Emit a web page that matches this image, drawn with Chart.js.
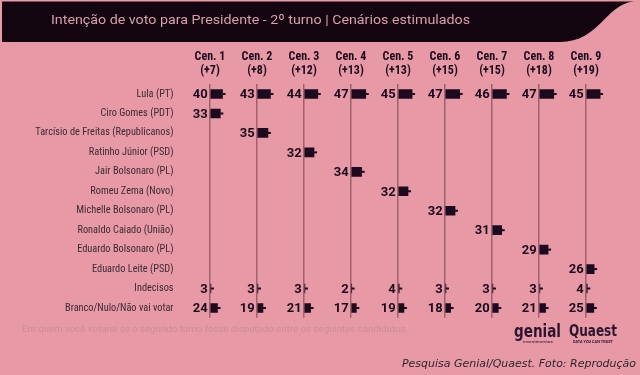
<!DOCTYPE html>
<html lang="pt-BR">
<head>
<meta charset="UTF-8">
<title>Intenção de voto - 2º turno</title>
<style>
    html, body {margin: 0; padding: 0; background: #e79aa6;}
    .chart-wrap {width: 640px; height: 375px;}
</style>
</head>
<body>
<div class="chart-wrap"><canvas id="myChart" width="640" height="375"></canvas></div>
<script src="https://cdn.jsdelivr.net/npm/chart.js@4.4.1/dist/chart.umd.min.js"></script>
<script>
    // 데이터
    const categories = ['Lula (PT)', 'Ciro Gomes (PDT)', 'Tarcísio de Freitas (Republicanos)', 'Ratinho Júnior (PSD)',
        'Jair Bolsonaro (PL)', 'Romeu Zema (Novo)', 'Michelle Bolsonaro (PL)', 'Ronaldo Caiado (União)',
        'Eduardo Bolsonaro (PL)', 'Eduardo Leite (PSD)', 'Indecisos', 'Branco/Nulo/Não vai votar'];
    const scenarios = ['Cen. 1', 'Cen. 2', 'Cen. 3', 'Cen. 4', 'Cen. 5', 'Cen. 6', 'Cen. 7', 'Cen. 8', 'Cen. 9'];
    const margins = ['(+7)', '(+8)', '(+12)', '(+13)', '(+13)', '(+15)', '(+15)', '(+18)', '(+19)'];
    const lula = [40, 43, 44, 47, 45, 47, 46, 47, 45];
    const opponent = [33, 35, 32, 34, 32, 32, 31, 29, 26]; // cenário i -> categories[i + 1]
    const indecisos = [3, 3, 3, 2, 4, 3, 3, 3, 4];
    const branco = [24, 19, 21, 17, 19, 18, 20, 21, 25];

    const barColor = '#1c0a1f';
    const narrow = '"Roboto Condensed", "Liberation Sans Narrow", "DejaVu Sans Condensed", Roboto';

    // um dataset por cenário, cada um no seu próprio eixo x
    const datasets = scenarios.map((name, i) => {
        const data = categories.map(() => null);
        data[0] = lula[i];
        data[i + 1] = opponent[i];
        data[10] = indecisos[i];
        data[11] = branco[i];
        return {label: name, data: data, xAxisID: 'x' + i, backgroundColor: barColor, grouped: false, barThickness: 9};
    });

    const scales = {
        y: {
            grid: {display: false},
            border: {display: false},
            ticks: {color: '#3b2b33', font: {family: narrow, size: 10.3}, padding: 5},
            afterFit: s => { s.width = 186.5; }
        }
    };
    // os eixos do topo são colocados em ordem inversa, por isso de trás pra frente
    for (let i = scenarios.length - 1; i >= 0; i--) {
        scales['x' + i] = {
            type: 'linear',
            position: 'top',
            stack: 'cen',
            min: -75,
            max: 75,
            ticks: {display: false, stepSize: 75},
            grid: {
                drawTicks: false,
                lineWidth: 1.5,
                color: c => (c.tick && c.tick.value === 0) ? '#a0616f' : 'transparent'
            },
            border: {display: false},
            title: {
                display: true,
                text: [scenarios[i], margins[i]],
                color: barColor,
                font: {family: narrow, weight: 'bold', size: 12, lineHeight: 1.17},
                padding: 0
            },
            afterFit: s => { s.height = 34.3; }
        };
    }

    // texto ajustado a uma largura
    function fitText(ctx, text, x, y, width, font, color, align) {
        ctx.save();
        ctx.font = font;
        ctx.fillStyle = color;
        ctx.textBaseline = 'alphabetic';
        ctx.textAlign = 'left';
        const w = ctx.measureText(text).width;
        const k = width / w;
        const x0 = align === 'right' ? x - width : x;
        ctx.translate(x0, y);
        ctx.scale(k, 1);
        ctx.fillText(text, 0, 0);
        ctx.restore();
    }

    const decor = {
        id: 'decor',
        beforeDraw(chart) {
            const ctx = chart.ctx;
            ctx.save();
            ctx.fillStyle = '#12050f';
            ctx.beginPath();
            ctx.moveTo(2, 1.5);
            ctx.lineTo(634, 1.5);
            ctx.bezierCurveTo(605, 4, 600, 42, 560, 42);
            ctx.lineTo(2, 42);
            ctx.closePath();
            ctx.fill();
            ctx.restore();
        },
        afterDraw(chart) {
            const ctx = chart.ctx;
            fitText(ctx, 'Intenção de voto para Presidente - 2º turno | Cenários estimulados', 51, 24, 419, '13.5px Roboto', '#dc9dad');
            fitText(ctx, 'Em quem você votaria se o segundo turno fosse disputado entre os seguintes candidatos.', 22, 332, 386, '9.5px Roboto', '#c98d98');
            // logos
            fitText(ctx, 'genial', 514, 337, 47, 'bold 17px "DejaVu Sans"', '#2b1530');
            fitText(ctx, 'investimentos', 523, 343, 30, '4px Roboto', '#2b1530');
            fitText(ctx, 'Quaest', 569, 336, 48, 'bold 15px "DejaVu Sans"', '#2b1530');
            fitText(ctx, 'DATA YOU CAN TRUST', 573, 343, 40, 'bold 4px Roboto', '#2b1530');
            fitText(ctx, 'Pesquisa Genial/Quaest. Foto: Reprodução', 636, 367, 234, 'italic 11px "DejaVu Sans"', '#2e272b', 'right');
        }
    };

    const valueLabels = {
        id: 'valueLabels',
        afterDatasetsDraw(chart) {
            const ctx = chart.ctx;
            ctx.save();
            chart.data.datasets.forEach((ds, di) => {
                const meta = chart.getDatasetMeta(di);
                meta.data.forEach((bar, j) => {
                    const v = ds.data[j];
                    if (v == null) return;
                    ctx.fillStyle = barColor;
                    ctx.fillRect(bar.x, bar.y - 1, 3, 2);
                    ctx.font = 'bold 13px Roboto';
                    ctx.textAlign = 'right';
                    ctx.textBaseline = 'middle';
                    ctx.fillText(v, bar.base - 3, bar.y + 1);
                });
            });
            ctx.restore();
        }
    };

    const ctx = document.getElementById('myChart').getContext('2d');
    const myChart = new Chart(ctx, {
        type: 'bar',
        data: {labels: categories, datasets: datasets},
        plugins: [decor, valueLabels],
        options: {
            indexAxis: 'y',
            responsive: false,
            animation: false,
            layout: {padding: {top: 50, left: 0, right: 30.5, bottom: 57.3}},
            plugins: {legend: {display: false}, tooltip: {enabled: false}},
            scales: scales
        }
    });
</script>
</body>
</html>
